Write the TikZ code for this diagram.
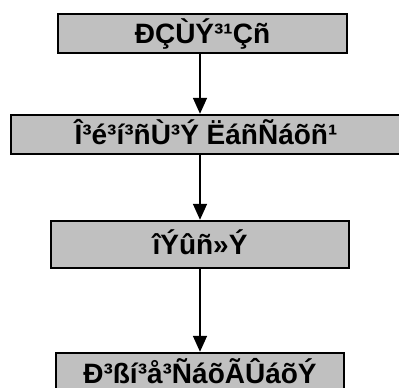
\documentclass[tikz,border=0pt]{standalone}
\usepackage{fontspec}
\setmainfont{Liberation Sans}
\usetikzlibrary{arrows.meta}
\begin{document}
\begin{tikzpicture}[x=1pt,y=-1pt,
  stagebox/.style={draw=black,line width=2.4pt,fill=boxgray,inner sep=0pt,
    font=\fontsize{28}{32}\selectfont\bfseries,text height=20pt,text depth=0pt},
  flow/.style={line width=1.6pt,-{Triangle[width=14pt,length=16pt]}}]
\definecolor{boxgray}{HTML}{C0C0C0}
\useasboundingbox (0,0) rectangle (399,388);
\begin{scope}
\clip (0,0) rectangle (399,388);
% stage boxes, top to bottom
\node[stagebox,minimum width=289pt,minimum height=39pt] (s1) at (202.5,33.5) {ÐÇÙÝ³¹Çñ};
\node[stagebox,minimum width=390pt,minimum height=39pt] (s2) at (206,134.5) {Î³é³í³ñÙ³Ý ËáñÑáõñ¹};
\node[stagebox,minimum width=298pt,minimum height=47pt] (s3) at (200,244.5) {îÝûñ»Ý};
\node[stagebox,minimum width=288pt,minimum height=40pt] (s4) at (200,373) {Ð³ßí³å³ÑáõÃÛáõÝ};
% connectors
\draw[flow] (s1.south -| 200,0) -- (s2.north -| 200,0);
\draw[flow] (s2.south -| 200,0) -- (s3.north -| 200,0);
\draw[flow] (s3.south -| 200,0) -- (s4.north -| 200,0);
\end{scope}
\end{tikzpicture}
\end{document}
